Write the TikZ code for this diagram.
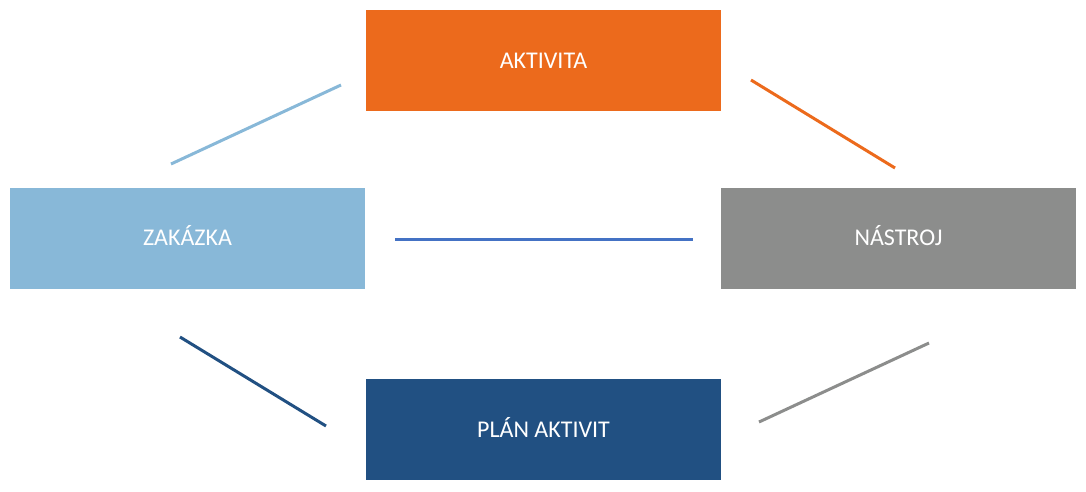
\documentclass[tikz,border=0pt]{standalone}
\usepackage{fontspec}
\setmainfont{Carlito}
\usepackage{tikz}
\usetikzlibrary{positioning}

\definecolor{aktorange}{HTML}{EC6A1C}
\definecolor{zaklight}{HTML}{88B8D8}
\definecolor{nasgray}{HTML}{8C8D8C}
\definecolor{plandark}{HTML}{215082}
\definecolor{midblue}{HTML}{4472C4}

\begin{document}
\begin{tikzpicture}[
  x=1pt, y=-1pt,
  box/.style={rectangle, minimum width=355pt, minimum height=101pt, inner sep=0pt,
    text height=15.5pt, text depth=0pt,
    text=white, font=\fontsize{24}{28}\selectfont},
  link/.style={line width=3pt}
]
\useasboundingbox (0,0) rectangle (1086,491);

% boxes
\node[box, fill=aktorange] (akt) at (543.5,60.5) {AKTIVITA};
\node[box, fill=zaklight] (zak) at (187.5,238) {ZAKÁZKA};
\node[box, fill=nasgray] (nas) at (898.5,238) {NÁSTROJ};
\node[box, fill=plandark] (plan) at (543.5,429.5) {PLÁN AKTIVIT};

% free ends of the links
\coordinate (zakA) at (171,164);
\coordinate (aktZ) at (341,85);
\coordinate (aktN) at (751,80);
\coordinate (nasA) at (895,168);
\coordinate (zakN) at (395,239);
\coordinate (nasZ) at (693,239);
\coordinate (zakP) at (180,337);
\coordinate (planZ) at (326,426);
\coordinate (planN) at (759,422);
\coordinate (nasP) at (929,343);

% links
\draw[link, zaklight] (zakA) -- (aktZ);
\draw[link, aktorange] (aktN) -- (nasA);
\draw[link, midblue] (zakN) -- (nasZ);
\draw[link, plandark] (zakP) -- (planZ);
\draw[link, nasgray] (planN) -- (nasP);

\end{tikzpicture}
\end{document}
